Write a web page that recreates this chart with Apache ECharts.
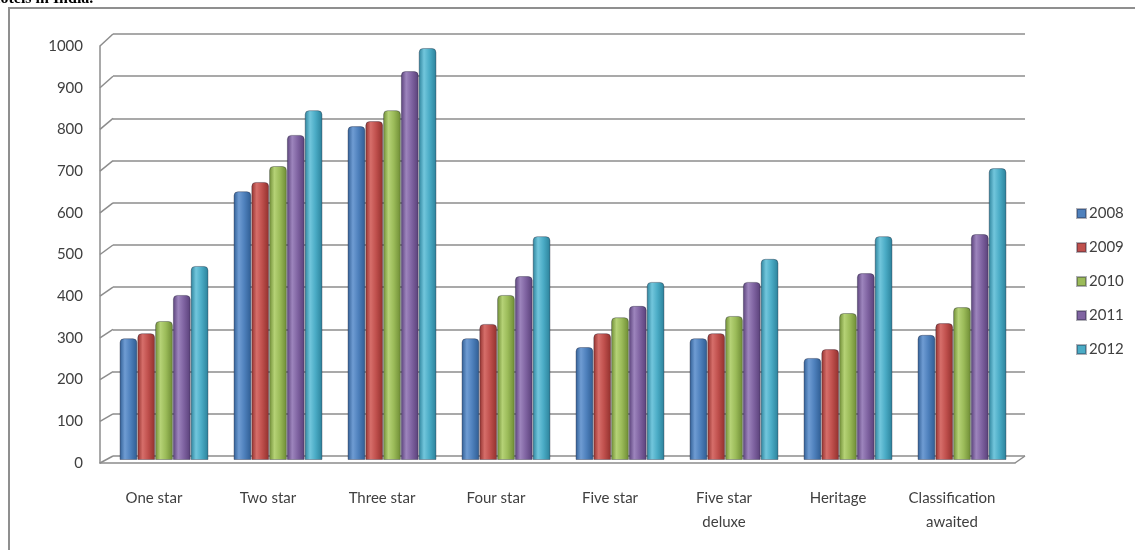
<!DOCTYPE html>
<html>
<head>
<meta charset="utf-8">
<script src="https://cdn.jsdelivr.net/npm/echarts@6/dist/echarts.min.js"></script>
<style>
  html, body { margin: 0; padding: 0; background: #ffffff; }
  #chart { width: 1135px; height: 550px; }
</style>
</head>
<body>
<div id="chart"></div>
<script>
// Approved hotels by category, 2008-2012
const categories = ['One star', 'Two star', 'Three star', 'Four star', 'Five star', 'Five star\ndeluxe', 'Heritage', 'Classification\nawaited'];
const years = ['2008', '2009', '2010', '2011', '2012'];
const hotels2008 = [290, 640, 795, 290, 269, 290, 243, 298];
const hotels2009 = [302, 662, 807, 324, 302, 302, 264, 326];
const hotels2010 = [331, 700, 833, 393, 340, 343, 350, 364];
const hotels2011 = [393, 774, 926, 438, 367, 424, 445, 538];
const hotels2012 = [462, 833, 981, 533, 424, 479, 533, 695];
const yTicks = [0, 100, 200, 300, 400, 500, 600, 700, 800, 900, 1000];

const seriesValues = [hotels2008, hotels2009, hotels2010, hotels2011, hotels2012];
// base / shadow / highlight tones for the cylinder-like shading
const palette = [
  { base: '#4F81BD', dark: '#2E5C92', light: '#6F9CD3' },
  { base: '#C0504D', dark: '#902F2C', light: '#D66E6A' },
  { base: '#9BBB59', dark: '#6C8A33', light: '#B5D276' },
  { base: '#8064A2', dark: '#583F78', light: '#9D85BD' },
  { base: '#4BACC6', dark: '#2A8099', light: '#72C6DC' }
];
const FONT = 'Lato, "Open Sans", sans-serif';
const TEXT_COLOR = '#3f3f3f';
const GRID_COLOR = '#8c8c8c';

const chart = echarts.init(document.getElementById('chart'), null, { renderer: 'canvas' });

function shade(p) {
  return new echarts.graphic.LinearGradient(0, 0, 1, 0, [
    { offset: 0, color: p.dark },
    { offset: 0.3, color: p.light },
    { offset: 0.6, color: p.base },
    { offset: 1, color: p.dark }
  ]);
}

const barSeries = years.map((y, i) => ({
  name: y,
  type: 'bar',
  xAxisIndex: 0,
  yAxisIndex: 0,
  barGap: '0%',
  barCategoryGap: '22%',
  data: seriesValues[i],
  z: 3,
  itemStyle: {
    color: shade(palette[i]),
    borderColor: 'rgba(30,30,50,0.35)',
    borderWidth: 1,
    borderRadius: [4, 4, 0, 0]
  },
  emphasis: { disabled: true }
}));

// depth edges joining the front wall edge to the back-wall gridlines
const edgeData = yTicks.map(v => [0, v]).concat([[1, 0]]);
const edgeSeries = {
  type: 'custom',
  xAxisIndex: 1,
  yAxisIndex: 1,
  silent: true,
  z: 1,
  data: edgeData,
  renderItem: function (params, api) {
    const x = api.value(0), v = api.value(1);
    const back = api.coord([x, v]);
    const front = chart.convertToPixel({ gridIndex: 2 }, [x, v]);
    return {
      type: 'line',
      shape: { x1: front[0], y1: front[1], x2: back[0], y2: back[1] },
      style: { stroke: GRID_COLOR, lineWidth: 1.5 }
    };
  }
};

const option = {
  animation: false,
  backgroundColor: '#ffffff',
  textStyle: { fontFamily: FONT },
  grid: [
    { left: 107, right: 116, top: 40, bottom: 90 },   // columns
    { left: 113, right: 110, top: 34, bottom: 94 },   // back wall
    { left: 100, right: 120, top: 46, bottom: 87 }    // front edges
  ],
  xAxis: [
    {
      type: 'category', gridIndex: 0, data: categories,
      axisLine: { show: false }, axisTick: { show: false },
      axisLabel: {
        color: TEXT_COLOR, fontSize: 15, fontFamily: FONT,
        margin: 26, lineHeight: 24, padding: [0, 20, 0, 0], interval: 0
      }
    },
    { type: 'value', gridIndex: 1, min: 0, max: 1, show: false },
    {
      type: 'value', gridIndex: 2, min: 0, max: 1,
      axisLine: { show: true, lineStyle: { color: GRID_COLOR, width: 1.5 } },
      axisTick: { show: false }, axisLabel: { show: false }, splitLine: { show: false }
    }
  ],
  yAxis: [
    {
      type: 'value', gridIndex: 0, min: 0, max: 1000, interval: 100,
      axisLine: { show: false }, axisTick: { show: false },
      axisLabel: { show: false }, splitLine: { show: false }
    },
    {
      type: 'value', gridIndex: 1, min: 0, max: 1000, interval: 100,
      axisLine: { show: false }, axisTick: { show: false }, axisLabel: { show: false },
      splitLine: { show: true, lineStyle: { color: GRID_COLOR, width: 1.5 } }
    },
    {
      type: 'value', gridIndex: 2, min: 0, max: 1000, interval: 100,
      axisLine: { show: true, lineStyle: { color: GRID_COLOR, width: 1.5 } },
      axisTick: { show: false }, splitLine: { show: false },
      axisLabel: {
        color: TEXT_COLOR, fontSize: 15, fontFamily: FONT, margin: 17,
        formatter: v => String(v)
      }
    }
  ],
  legend: {
    orient: 'vertical',
    left: 1071,
    top: 201,
    itemWidth: 9,
    itemHeight: 9,
    itemGap: 19,
    icon: 'rect',
    textStyle: { color: TEXT_COLOR, fontSize: 15, fontFamily: FONT, padding: [0, 0, 0, -2] },
    data: years.map((y, i) => ({ name: y, itemStyle: { color: palette[i].base } }))
  },
  graphic: [
    {
      type: 'rect',
      shape: { x: 9, y: 8, width: 1140, height: 560 },
      style: { fill: 'none', stroke: '#8f8f8f', lineWidth: 2 },
      silent: true
    },
    {
      type: 'text',
      x: -12, y: -9,
      style: {
        text: 'Hotels in India.',
        font: 'bold 16px "Liberation Serif", serif',
        fill: '#000000',
        verticalAlign: 'top'
      },
      silent: true
    }
  ],
  series: barSeries.concat([edgeSeries])
};

chart.setOption(option);
</script>
</body>
</html>
